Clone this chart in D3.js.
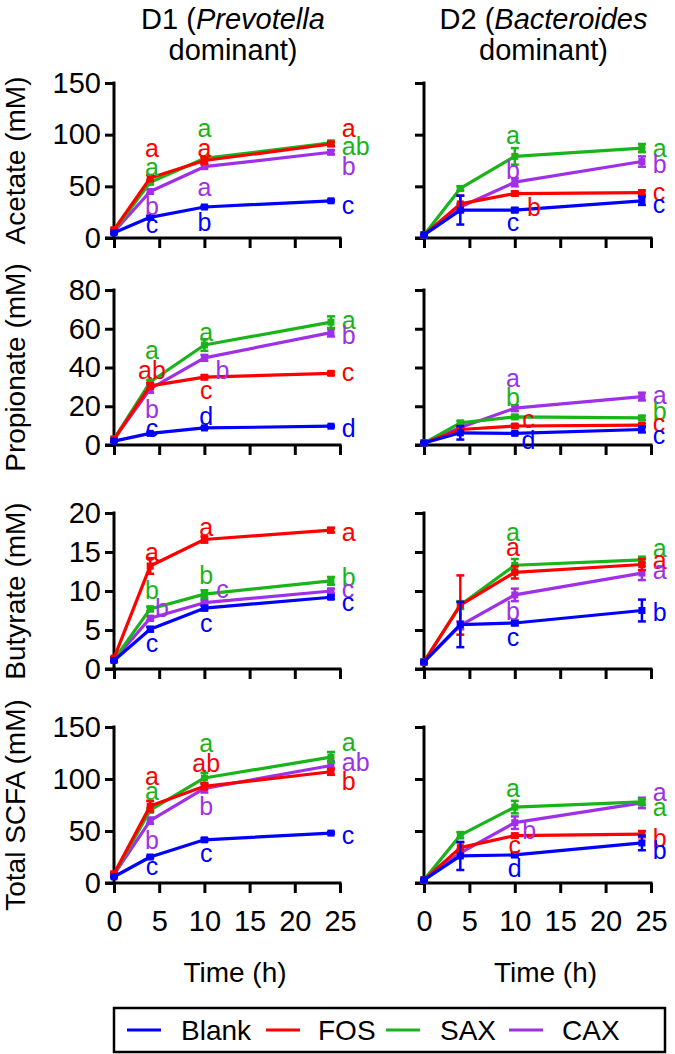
<!DOCTYPE html>
<html>
<head>
<meta charset="utf-8">
<script src="https://cdn.jsdelivr.net/npm/d3@7"></script>
<style>
  html, body { margin: 0; padding: 0; background: #fff; }
  svg { display: block; font-family: "Liberation Sans", Arial, Helvetica, sans-serif; }
</style>
</head>
<body>
<svg id="chart" width="675" height="1054"></svg>
<script>
// ---------------- DATA ----------------
const times = [0, 4, 10, 24];
const seriesNames = ["Blank", "FOS", "SAX", "CAX"];
const seriesColors = ["#0000FF", "#FF0000", "#19B419", "#A030E8"];
const xTicks = [0, 5, 10, 15, 20, 25];
const columnTitles = [["D1 (", "Prevotella", "dominant)"], ["D2 (", "Bacteroides", "dominant)"]];
const rowLabels = ["Acetate (mM)", "Propionate (mM)", "Butyrate (mM)", "Total SCFA (mM)"];
const rowDomains = [[0, 150], [0, 80], [0, 20], [0, 150]];
const rowTicks = [[0, 50, 100, 150], [0, 20, 40, 60, 80], [0, 5, 10, 15, 20], [0, 50, 100, 150]];
const xLabel = "Time (h)";

// means: [Blank, FOS, SAX, CAX] at times 0,4,10,24
const d1Acetate    = [[5, 20, 30, 36], [8, 58, 75, 91], [7, 54, 77, 92], [6, 45, 69, 83]];
const d1AcetateErr = [[0.5, 1, 1, 1], [1, 3, 3, 2], [1, 2, 2, 2], [1, 2, 2, 2]];
const d2Acetate    = [[3, 27, 27, 36], [3, 33, 43, 44], [3, 48, 79, 87], [3, 30, 54, 74]];
const d2AcetateErr = [[0.5, 14, 2, 4], [0.5, 8, 2, 2], [0.5, 2, 8, 4], [0.5, 3, 4, 5]];

const d1Propionate    = [[2, 6, 8.8, 9.7], [3, 30.5, 35, 37], [3, 32.5, 51.6, 63.4], [3, 29, 45, 58]];
const d1PropionateErr = [[0.2, 0.4, 0.4, 0.4], [0.3, 1.5, 1, 0.8], [0.3, 1, 3, 3], [0.3, 2, 1.5, 2]];
const d2Propionate    = [[1, 6.3, 6, 8], [1, 8, 9.8, 10.3], [1, 11.4, 14.5, 14], [1, 9, 19, 25]];
const d2PropionateErr = [[0.2, 3.5, 0.5, 1.5], [0.2, 1, 0.8, 0.8], [0.2, 1, 1, 1], [0.2, 1, 1.5, 2]];

const d1Butyrate    = [[1.1, 5.1, 7.8, 9.2], [1.4, 13.2, 16.6, 17.8], [1.2, 7.7, 9.6, 11.3], [1.2, 6.5, 8.5, 10.0]];
const d1ButyrateErr = [[0.1, 0.3, 0.3, 0.2], [0.1, 1, 0.4, 0.3], [0.1, 0.3, 0.5, 0.5], [0.1, 0.3, 0.3, 0.3]];
const d2Butyrate    = [[0.9, 5.7, 5.9, 7.5], [0.9, 8.2, 12.4, 13.4], [0.9, 8.2, 13.3, 14], [0.9, 5.6, 9.5, 12.3]];
const d2ButyrateErr = [[0.1, 2.9, 0.3, 1.4], [0.1, 3.8, 0.8, 0.7], [0.1, 0.5, 0.8, 0.4], [0.1, 0.5, 0.8, 0.9]];

const d1Total    = [[6, 25, 41.5, 48], [9, 74, 93, 107], [8, 70, 101, 121], [8, 60, 91, 113]];
const d1TotalErr = [[0.5, 1, 1.5, 1], [1, 5, 3, 3], [1, 2, 5, 5], [1, 3, 4, 4]];
const d2Total    = [[3, 26, 27, 38.5], [3, 34, 45.5, 47], [3, 46, 73, 78], [3, 29, 58, 77]];
const d2TotalErr = [[0.5, 13.5, 2, 7], [0.5, 5, 2, 3], [0.5, 3, 6, 3], [0.5, 3, 6, 5]];

// significance letters: [seriesIndex, time, value, text]
const d1AcetateLetters = [
  [1, 4.2, 87, "a"], [2, 4.2, 69, "a"], [3, 4.2, 31, "b"], [0, 4.2, 13.5, "c"],
  [2, 10, 106, "a"], [1, 10, 87, "a"], [3, 10, 49, "a"], [0, 10, 15.5, "b"],
  [1, 25.2, 106, "a"], [2, 25.2, 89, "ab"], [3, 25.2, 70, "b"], [0, 25.2, 32, "c"]];
const d2AcetateLetters = [
  [2, 9.8, 100, "a"], [3, 9.8, 66, "b"], [1, 12.1, 30, "b"], [0, 9.8, 15.5, "c"],
  [2, 25.2, 87, "a"], [3, 25.2, 72, "b"], [1, 25.2, 44.5, "c"], [0, 25.2, 33, "c"]];
const d1PropionateLetters = [
  [2, 4.2, 49, "a"], [1, 4.2, 38.7, "ab"], [3, 4.2, 18.6, "b"], [0, 4.2, 8.8, "c"],
  [2, 10.2, 58.3, "a"], [3, 12, 38.7, "b"], [1, 10.2, 28.4, "c"], [0, 10.2, 15, "d"],
  [2, 25.2, 64.5, "a"], [3, 25.2, 56.8, "b"], [1, 25.2, 37.7, "c"], [0, 25.2, 8.8, "d"]];
const d2PropionateLetters = [
  [3, 9.8, 34.6, "a"], [2, 9.8, 24.8, "b"], [1, 11.5, 13.4, "c"], [0, 11.5, 2.6, "d"],
  [3, 25.2, 25.8, "a"], [2, 25.2, 17.5, "b"], [1, 25.2, 11.4, "c"], [0, 25.2, 5.2, "c"]];
const d1ButyrateLetters = [
  [1, 4.2, 15, "a"], [2, 4.2, 10.1, "b"], [3, 5.3, 7.8, "b"], [0, 4.2, 3.3, "c"],
  [1, 10.2, 18.2, "a"], [2, 10.2, 12.1, "b"], [3, 12, 10.3, "c"], [0, 10.2, 5.9, "c"],
  [1, 25.2, 17.6, "a"], [2, 25.2, 11.8, "b"], [3, 25.2, 10.3, "c"], [0, 25.2, 8.6, "c"]];
const d2ButyrateLetters = [
  [2, 9.8, 17.6, "a"], [1, 9.8, 15.6, "a"], [3, 9.8, 7.4, "b"], [0, 9.8, 4.1, "c"],
  [2, 25.2, 15.5, "a"], [1, 25.2, 14.0, "a"], [3, 25.2, 12.7, "a"], [0, 25.2, 7.3, "b"]];
const d1TotalLetters = [
  [1, 4.2, 103, "a"], [2, 4.2, 88.5, "a"], [3, 4.2, 41, "b"], [0, 4.2, 16, "c"],
  [2, 10.2, 135, "a"], [1, 10.2, 115, "ab"], [3, 10.2, 74, "b"], [0, 10.2, 29, "c"],
  [2, 25.2, 135.6, "a"], [3, 25.2, 116, "ab"], [1, 25.2, 98, "b"], [0, 25.2, 46, "c"]];
const d2TotalLetters = [
  [2, 9.8, 91, "a"], [3, 11.6, 51, "b"], [1, 10, 36.5, "c"], [0, 10, 14.4, "d"],
  [3, 25.2, 87.5, "a"], [2, 25.2, 73, "a"], [1, 25.2, 43, "b"], [0, 25.2, 32, "b"]];

// ---------------- LAYOUT ----------------
const svg = d3.select("#chart");
const FONT = 28;
const TICKFONT = 29;
const colX = [[114, 340], [424, 651]];
const rowY = [[238, 83], [445, 290], [669, 513], [883, 727]];
const panels = [
  [d1Acetate, d1AcetateErr, d1AcetateLetters, d2Acetate, d2AcetateErr, d2AcetateLetters],
  [d1Propionate, d1PropionateErr, d1PropionateLetters, d2Propionate, d2PropionateErr, d2PropionateLetters],
  [d1Butyrate, d1ButyrateErr, d1ButyrateLetters, d2Butyrate, d2ButyrateErr, d2ButyrateLetters],
  [d1Total, d1TotalErr, d1TotalLetters, d2Total, d2TotalErr, d2TotalLetters]
];
const drawOrder = [3, 2, 1, 0];

// column titles
columnTitles.forEach((t, c) => {
  const cx = (colX[c][0] + colX[c][1]) / 2 + 6;
  const txt = svg.append("text").attr("x", cx).attr("y", 29)
    .attr("text-anchor", "middle").attr("font-size", 29).attr("fill", "#000");
  txt.append("tspan").text(t[0]);
  txt.append("tspan").attr("font-style", "italic").text(t[1]);
  svg.append("text").attr("x", cx).attr("y", 60)
    .attr("text-anchor", "middle").attr("font-size", 29).attr("fill", "#000").text(t[2]);
});

for (let r = 0; r < 4; r++) {
  const y = d3.scaleLinear().domain(rowDomains[r]).range(rowY[r]);
  // row label
  svg.append("text")
    .attr("transform", `translate(25,${(rowY[r][0] + rowY[r][1]) / 2}) rotate(-90)`)
    .attr("text-anchor", "middle").attr("font-size", FONT).attr("fill", "#000")
    .text(rowLabels[r]);

  for (let c = 0; c < 2; c++) {
    const x = d3.scaleLinear().domain([0, 25]).range(colX[c]);
    const means = panels[r][c * 3];
    const errs = panels[r][c * 3 + 1];
    const letters = panels[r][c * 3 + 2];
    const g = svg.append("g");

    // y axis
    const yAxis = d3.axisLeft(y).tickValues(rowTicks[r]).tickSize(9).tickSizeOuter(0).tickPadding(4);
    if (c === 1) yAxis.tickFormat("");
    const ya = g.append("g").attr("transform", `translate(${colX[c][0]},0)`).call(yAxis);
    ya.select(".domain").remove();
    ya.selectAll(".tick line").attr("stroke", "#000").attr("stroke-width", 3);
    ya.selectAll(".tick text").attr("font-size", TICKFONT).attr("font-family", "Liberation Sans, Arial, sans-serif").attr("fill", "#000");
    g.append("line").attr("x1", colX[c][0]).attr("x2", colX[c][0])
      .attr("y1", y(rowDomains[r][1]) - 1.5).attr("y2", y(0))
      .attr("stroke", "#000").attr("stroke-width", 3);

    // x axis
    const xAxis = d3.axisBottom(x).tickValues(xTicks).tickSize(10).tickSizeOuter(0).tickPadding(17);
    if (r < 3) xAxis.tickFormat("");
    const xa = g.append("g").attr("transform", `translate(0,${y(0)})`).call(xAxis);
    xa.select(".domain").remove();
    xa.selectAll(".tick line").attr("stroke", "#000").attr("stroke-width", 3);
    xa.selectAll(".tick text").attr("font-size", TICKFONT).attr("font-family", "Liberation Sans, Arial, sans-serif").attr("fill", "#000");
    g.append("line").attr("x1", colX[c][0] - 9).attr("x2", colX[c][1] + 1.5)
      .attr("y1", y(0)).attr("y2", y(0))
      .attr("stroke", "#000").attr("stroke-width", 3);

    if (r === 3) {
      g.append("text").attr("x", (colX[c][0] + colX[c][1]) / 2 + 8).attr("y", 982)
        .attr("text-anchor", "middle").attr("font-size", FONT).attr("fill", "#000").text(xLabel);
    }

    // series
    const line = d3.line().x((d, i) => x(times[i])).y(d => y(d));
    drawOrder.forEach(s => {
      const col = seriesColors[s];
      const sg = g.append("g");
      sg.append("path").datum(means[s]).attr("d", line)
        .attr("fill", "none").attr("stroke", col).attr("stroke-width", 3.2).attr("stroke-linejoin", "round");
      means[s].forEach((m, i) => {
        const e = errs[s][i];
        const px = x(times[i]);
        sg.append("line").attr("x1", px).attr("x2", px).attr("y1", y(m - e)).attr("y2", y(m + e))
          .attr("stroke", col).attr("stroke-width", 2.5);
        [m - e, m + e].forEach(v => {
          sg.append("line").attr("x1", px - 4).attr("x2", px + 4).attr("y1", y(v)).attr("y2", y(v))
            .attr("stroke", col).attr("stroke-width", 2.5);
        });
        sg.append("rect").attr("x", px - 3.5).attr("y", y(m) - 3.5).attr("width", 7).attr("height", 7)
          .attr("fill", col);
      });
    });

    // letters
    letters.forEach(L => {
      g.append("text").attr("x", x(L[1])).attr("y", y(L[2]))
        .attr("dy", "0.36em")
        .attr("text-anchor", L[1] > 24 ? "start" : "middle")
        .attr("font-size", 25).attr("fill", seriesColors[L[0]]).text(L[3]);
    });
  }
}

// legend
const lg = svg.append("g");
lg.append("rect").attr("x", 114).attr("y", 1008).attr("width", 551).attr("height", 44)
  .attr("fill", "none").attr("stroke", "#000").attr("stroke-width", 2.5);
const legLineX = [127, 266, 386, 509];
const legTextX = [181, 318, 440, 562];
seriesNames.forEach((n, i) => {
  lg.append("line").attr("x1", legLineX[i]).attr("x2", legLineX[i] + 34)
    .attr("y1", 1030).attr("y2", 1030).attr("stroke", seriesColors[i]).attr("stroke-width", 3);
  lg.append("text").attr("x", legTextX[i]).attr("y", 1040).attr("font-size", FONT)
    .attr("fill", "#000").text(n);
});
</script>
</body>
</html>
